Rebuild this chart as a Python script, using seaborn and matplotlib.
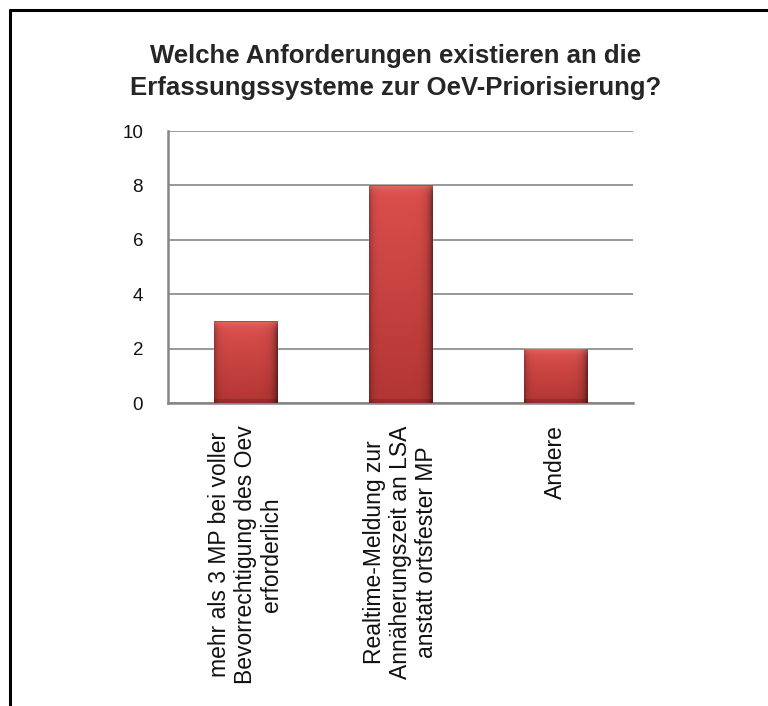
import numpy as np
import pandas as pd
import seaborn as sns
import matplotlib.pyplot as plt
from matplotlib.lines import Line2D

# chart data
categories = [
    "mehr als 3 MP bei voller\nBevorrechtigung des Oev\nerforderlich",
    "Realtime-Meldung zur\nAnnäherungszeit an LSA\nanstatt ortsfester MP",
    "Andere",
]
counts = [3, 8, 2]
y_ticks = [0, 2, 4, 6, 8, 10]
title = "Welche Anforderungen existieren an die\nErfassungssysteme zur OeV-Priorisierung?"


def bar_shade(w_px, h_px):
    """ Build a red bevel-like gradient image for one bar. """
    w_px, h_px = max(int(w_px), 2), max(int(h_px), 2)
    yy = np.linspace(0, 1, h_px)[:, None]
    top = np.array([0.86, 0.31, 0.30])
    bot = np.array([0.70, 0.21, 0.20])
    img = top * (1 - yy[..., None]) + bot * yy[..., None]
    img = np.repeat(img, w_px, axis=1)
    xs = np.arange(w_px)
    f = 1 - 0.30 * np.exp(-xs / 3.0) - 0.50 * np.exp(-(w_px - 1 - xs) / 4.0)
    img = img * f[None, :, None]
    rows = np.arange(h_px)
    bevel = np.exp(-rows / 4.0)[:, None, None] * 0.55
    img = img * (1 - bevel) + np.array([0.95, 0.50, 0.48]) * bevel
    img[-4:] *= 0.85
    img[:1] = [0.80, 0.25, 0.24]
    return np.clip(img, 0, 1)


def main():
    sns.set_style("white")
    plt.rcParams["font.family"] = ["Liberation Sans", "DejaVu Sans"]

    fig = plt.figure(figsize=(7.68, 7.06), dpi=100)
    ax = fig.add_axes([168 / 768, 1 - 403 / 706, 465 / 768, 272 / 706])

    df = pd.DataFrame({"Anforderung": categories, "Anzahl": counts})
    sns.barplot(data=df, x="Anforderung", y="Anzahl", color="#c8403e",
                width=0.41, ax=ax, zorder=2)

    ax.set_ylim(0, 10)
    ax.set_yticks(y_ticks)
    ax.set_xlim(-0.5, len(categories) - 0.5)
    ax.set_xlabel("")
    ax.set_ylabel("")
    ax.yaxis.grid(True, color="#868686", linewidth=1.2)
    ax.set_axisbelow(True)
    for side in ["top", "right"]:
        ax.spines[side].set_visible(False)
    for side in ["left", "bottom"]:
        ax.spines[side].set_color("#868686")
        ax.spines[side].set_linewidth(1.8)

    ax.tick_params(axis="both", length=0, labelsize=13.5, labelcolor="#111111")
    ax.tick_params(axis="y", pad=18)
    ax.tick_params(axis="x", pad=16)
    ax.set_xticks(range(len(categories)))
    ax.set_xticklabels(categories, rotation=90, ha="center", va="top",
                       multialignment="center", fontsize=16.5, linespacing=1.15)

    # gradient fill for each bar, clipped to the seaborn patch
    fig.canvas.draw()
    for patch in list(ax.patches):
        x0, w, h = patch.get_x(), patch.get_width(), patch.get_height()
        p0 = ax.transData.transform((x0, 0))
        p1 = ax.transData.transform((x0 + w, h))
        img = bar_shade(p1[0] - p0[0], p1[1] - p0[1])
        im = ax.imshow(img, extent=[x0, x0 + w, 0, h], aspect="auto",
                       zorder=3, interpolation="bilinear")
        im.set_clip_path(patch)
    ax.set_xlim(-0.5, len(categories) - 0.5)
    ax.set_ylim(0, 10)

    fig.text(396 / 768, 1 - 72 / 706, title, ha="center", va="center",
             fontsize=18.5, fontweight="bold", linespacing=1.45)

    # outer frame (left and top only, as in the reference)
    fig.add_artist(Line2D([9.5 / 768, 9.5 / 768], [0, 1 - 10 / 706],
                          transform=fig.transFigure, color="black", lw=2.2))
    fig.add_artist(Line2D([9.5 / 768, 1], [1 - 10 / 706, 1 - 10 / 706],
                          transform=fig.transFigure, color="black", lw=2.2))

    plt.savefig("out.png", dpi=100)


if __name__ == "__main__":
    main()
